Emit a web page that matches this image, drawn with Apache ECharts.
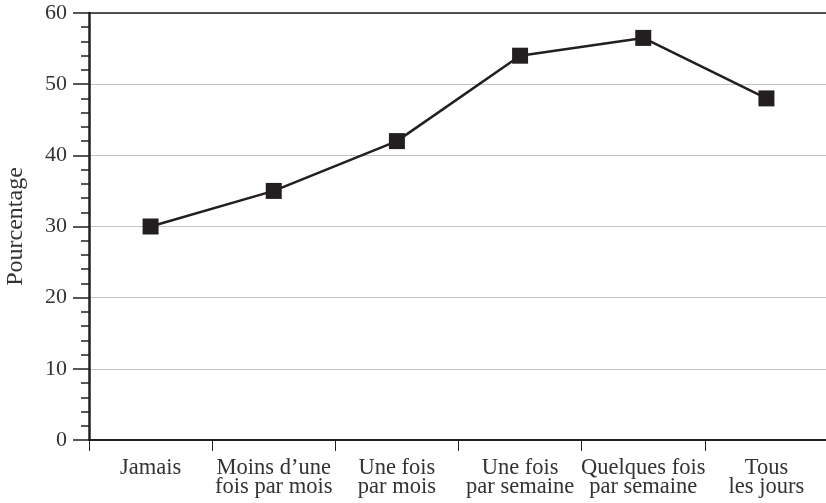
<!DOCTYPE html>
<html>
<head>
<meta charset="utf-8">
<script src="https://cdn.jsdelivr.net/npm/echarts@6/dist/echarts.min.js"></script>
<style>
html,body{margin:0;padding:0;background:#fff;}
#c{width:826px;height:503px;}
</style>
</head>
<body>
<div id="c"></div>
<script>
const categories = ["Jamais", "Moins d\u2019une\nfois par mois", "Une fois\npar mois", "Une fois\npar semaine", "Quelques fois\npar semaine", "Tous\nles jours"];
const values = [30, 35, 42, 54, 56.5, 48];
const yTicks = [0, 10, 20, 30, 40, 50, 60];
const yName = "Pourcentage";

const FONT = "'Liberation Serif', serif";
const TXT = "#333333";
const INK = "#231f20";

const chart = echarts.init(document.getElementById('c'), null, {renderer: 'canvas'});
chart.setOption({
  animation: false,
  backgroundColor: '#ffffff',
  grid: {left: 89, right: -2, top: 13, bottom: 63, containLabel: false, outerBoundsMode: 'none'},
  xAxis: [{
    type: 'category',
    data: categories,
    boundaryGap: true,
    position: 'bottom',
    axisLine: {show: true, lineStyle: {color: INK, width: 2}},
    axisTick: {show: true, length: 11, lineStyle: {color: INK, width: 1}},
    axisLabel: {margin: 18, fontFamily: FONT, fontSize: 22.5, color: TXT, lineHeight: 19.5, interval: 0, align: 'center'},
    splitLine: {show: false}
  }, {
    type: 'category',
    data: categories,
    position: 'top',
    axisLine: {show: true, onZero: false, lineStyle: {color: INK, width: 1.5}},
    axisTick: {show: false},
    axisLabel: {show: false},
    splitLine: {show: false}
  }],
  yAxis: {
    type: 'value',
    min: yTicks[0],
    max: yTicks[yTicks.length - 1],
    interval: 10,
    name: yName,
    nameLocation: 'middle',
    nameGap: 61,
    nameTextStyle: {fontFamily: FONT, fontSize: 24, color: TXT},
    axisLine: {show: true, lineStyle: {color: INK, width: 2.5}},
    axisTick: {show: true, length: 16, lineStyle: {color: INK, width: 1.5}},
    minorTick: {show: true, splitNumber: 5, length: 8, lineStyle: {color: INK, width: 1.5}},
    axisLabel: {margin: 22, fontFamily: FONT, fontSize: 22, color: TXT},
    splitLine: {show: true, lineStyle: {color: '#c4c4c8', width: 1}}
  },
  series: [{
    type: 'line',
    data: values,
    symbol: 'rect',
    symbolSize: 16,
    lineStyle: {color: INK, width: 2.5},
    itemStyle: {color: INK},
    z: 5
  }]
});
</script>
</body>
</html>
